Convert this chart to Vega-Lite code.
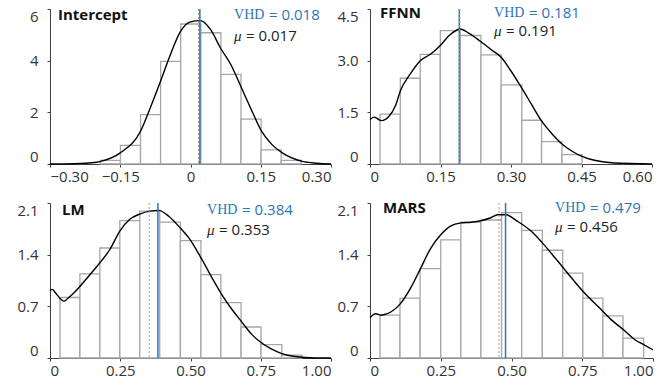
{
  "$schema": "https://vega.github.io/schema/vega-lite/v6.json",
  "background": "white",
  "padding": {"left": 16, "top": 5, "right": 5, "bottom": 5},
  "bounds": "flush",
  "columns": 2,
  "spacing": {"row": 39, "column": 39},
  "datasets": {
    "hist": [
      {"panel": "Intercept", "start": -0.1925, "end": -0.1496, "density": 0.14},
      {"panel": "Intercept", "start": -0.1496, "end": -0.1067, "density": 0.72},
      {"panel": "Intercept", "start": -0.1067, "end": -0.0638, "density": 1.91},
      {"panel": "Intercept", "start": -0.0638, "end": -0.0209, "density": 3.97},
      {"panel": "Intercept", "start": -0.0209, "end": 0.022, "density": 5.42},
      {"panel": "Intercept", "start": 0.022, "end": 0.0649, "density": 5.08},
      {"panel": "Intercept", "start": 0.0649, "end": 0.1078, "density": 3.47},
      {"panel": "Intercept", "start": 0.1078, "end": 0.1507, "density": 1.74},
      {"panel": "Intercept", "start": 0.1507, "end": 0.1936, "density": 0.55},
      {"panel": "Intercept", "start": 0.1936, "end": 0.2365, "density": 0.14},
      {"panel": "FFNN", "start": 0.0213, "end": 0.0645, "density": 1.45},
      {"panel": "FFNN", "start": 0.0645, "end": 0.107, "density": 2.49},
      {"panel": "FFNN", "start": 0.107, "end": 0.1496, "density": 3.18},
      {"panel": "FFNN", "start": 0.1496, "end": 0.192, "density": 3.87},
      {"panel": "FFNN", "start": 0.192, "end": 0.236, "density": 3.73},
      {"panel": "FFNN", "start": 0.236, "end": 0.279, "density": 3.17},
      {"panel": "FFNN", "start": 0.279, "end": 0.323, "density": 2.3},
      {"panel": "FFNN", "start": 0.323, "end": 0.365, "density": 1.27},
      {"panel": "FFNN", "start": 0.365, "end": 0.4085, "density": 0.65},
      {"panel": "FFNN", "start": 0.4085, "end": 0.451, "density": 0.27},
      {"panel": "LM", "start": 0.0355, "end": 0.1065, "density": 0.82},
      {"panel": "LM", "start": 0.1065, "end": 0.1775, "density": 1.14},
      {"panel": "LM", "start": 0.1775, "end": 0.2485, "density": 1.49},
      {"panel": "LM", "start": 0.2485, "end": 0.3195, "density": 1.86},
      {"panel": "LM", "start": 0.3195, "end": 0.3905, "density": 1.99},
      {"panel": "LM", "start": 0.3905, "end": 0.464, "density": 1.84},
      {"panel": "LM", "start": 0.464, "end": 0.537, "density": 1.59},
      {"panel": "LM", "start": 0.537, "end": 0.608, "density": 1.13},
      {"panel": "LM", "start": 0.608, "end": 0.68, "density": 0.75},
      {"panel": "LM", "start": 0.68, "end": 0.751, "density": 0.42},
      {"panel": "LM", "start": 0.751, "end": 0.825, "density": 0.18},
      {"panel": "LM", "start": 0.825, "end": 0.896, "density": 0.04},
      {"panel": "MARS", "start": 0.0354, "end": 0.106, "density": 0.58},
      {"panel": "MARS", "start": 0.106, "end": 0.177, "density": 0.81},
      {"panel": "MARS", "start": 0.177, "end": 0.25, "density": 1.21},
      {"panel": "MARS", "start": 0.25, "end": 0.321, "density": 1.6},
      {"panel": "MARS", "start": 0.321, "end": 0.392, "density": 1.84},
      {"panel": "MARS", "start": 0.392, "end": 0.465, "density": 1.87},
      {"panel": "MARS", "start": 0.465, "end": 0.536, "density": 1.97},
      {"panel": "MARS", "start": 0.536, "end": 0.609, "density": 1.73},
      {"panel": "MARS", "start": 0.609, "end": 0.681, "density": 1.46},
      {"panel": "MARS", "start": 0.681, "end": 0.752, "density": 1.15},
      {"panel": "MARS", "start": 0.752, "end": 0.823, "density": 0.81},
      {"panel": "MARS", "start": 0.823, "end": 0.894, "density": 0.57},
      {"panel": "MARS", "start": 0.894, "end": 0.967, "density": 0.27}
    ],
    "kde": [
      {"panel": "Intercept", "x": -0.3, "y": 0.0},
      {"panel": "Intercept", "x": -0.25, "y": 0.01},
      {"panel": "Intercept", "x": -0.2, "y": 0.07},
      {"panel": "Intercept", "x": -0.192, "y": 0.1},
      {"panel": "Intercept", "x": -0.15, "y": 0.43},
      {"panel": "Intercept", "x": -0.107, "y": 1.26},
      {"panel": "Intercept", "x": -0.086, "y": 2.17},
      {"panel": "Intercept", "x": -0.064, "y": 3.2},
      {"panel": "Intercept", "x": -0.043, "y": 4.23},
      {"panel": "Intercept", "x": -0.021, "y": 5.14},
      {"panel": "Intercept", "x": 0.0, "y": 5.5},
      {"panel": "Intercept", "x": 0.021, "y": 5.55},
      {"panel": "Intercept", "x": 0.043, "y": 5.2},
      {"panel": "Intercept", "x": 0.064, "y": 4.49},
      {"panel": "Intercept", "x": 0.086, "y": 3.85},
      {"panel": "Intercept", "x": 0.109, "y": 2.94},
      {"panel": "Intercept", "x": 0.13, "y": 2.1},
      {"panel": "Intercept", "x": 0.152, "y": 1.26},
      {"panel": "Intercept", "x": 0.174, "y": 0.75},
      {"panel": "Intercept", "x": 0.196, "y": 0.43},
      {"panel": "Intercept", "x": 0.239, "y": 0.1},
      {"panel": "Intercept", "x": 0.27, "y": 0.03},
      {"panel": "Intercept", "x": 0.3, "y": 0.0},
      {"panel": "FFNN", "x": 0.0, "y": 1.29},
      {"panel": "FFNN", "x": 0.009, "y": 1.36},
      {"panel": "FFNN", "x": 0.024, "y": 1.26},
      {"panel": "FFNN", "x": 0.04, "y": 1.38},
      {"panel": "FFNN", "x": 0.055, "y": 1.72},
      {"panel": "FFNN", "x": 0.0645, "y": 2.12},
      {"panel": "FFNN", "x": 0.085, "y": 2.6},
      {"panel": "FFNN", "x": 0.107, "y": 3.0},
      {"panel": "FFNN", "x": 0.13, "y": 3.2},
      {"panel": "FFNN", "x": 0.15, "y": 3.45},
      {"panel": "FFNN", "x": 0.17, "y": 3.75},
      {"panel": "FFNN", "x": 0.192, "y": 3.92},
      {"panel": "FFNN", "x": 0.21, "y": 3.8},
      {"panel": "FFNN", "x": 0.236, "y": 3.55},
      {"panel": "FFNN", "x": 0.26, "y": 3.3},
      {"panel": "FFNN", "x": 0.279, "y": 3.1},
      {"panel": "FFNN", "x": 0.3, "y": 2.7},
      {"panel": "FFNN", "x": 0.323, "y": 2.2},
      {"panel": "FFNN", "x": 0.345, "y": 1.7},
      {"panel": "FFNN", "x": 0.365, "y": 1.25},
      {"panel": "FFNN", "x": 0.387, "y": 0.88},
      {"panel": "FFNN", "x": 0.4085, "y": 0.58},
      {"panel": "FFNN", "x": 0.43, "y": 0.37},
      {"panel": "FFNN", "x": 0.451, "y": 0.22},
      {"panel": "FFNN", "x": 0.48, "y": 0.1},
      {"panel": "FFNN", "x": 0.52, "y": 0.03},
      {"panel": "FFNN", "x": 0.6, "y": 0.0},
      {"panel": "LM", "x": 0.0, "y": 0.91},
      {"panel": "LM", "x": 0.008, "y": 0.93},
      {"panel": "LM", "x": 0.02, "y": 0.88},
      {"panel": "LM", "x": 0.05, "y": 0.77},
      {"panel": "LM", "x": 0.067, "y": 0.82},
      {"panel": "LM", "x": 0.1065, "y": 0.97},
      {"panel": "LM", "x": 0.138, "y": 1.11},
      {"panel": "LM", "x": 0.1775, "y": 1.29},
      {"panel": "LM", "x": 0.213, "y": 1.47},
      {"panel": "LM", "x": 0.2485, "y": 1.72},
      {"panel": "LM", "x": 0.284, "y": 1.88},
      {"panel": "LM", "x": 0.3195, "y": 1.95},
      {"panel": "LM", "x": 0.355, "y": 1.99},
      {"panel": "LM", "x": 0.387, "y": 2.0},
      {"panel": "LM", "x": 0.4225, "y": 1.92},
      {"panel": "LM", "x": 0.464, "y": 1.76},
      {"panel": "LM", "x": 0.4935, "y": 1.63},
      {"panel": "LM", "x": 0.537, "y": 1.36},
      {"panel": "LM", "x": 0.576, "y": 1.09},
      {"panel": "LM", "x": 0.608, "y": 0.88},
      {"panel": "LM", "x": 0.647, "y": 0.66},
      {"panel": "LM", "x": 0.68, "y": 0.5},
      {"panel": "LM", "x": 0.718, "y": 0.32},
      {"panel": "LM", "x": 0.751, "y": 0.21},
      {"panel": "LM", "x": 0.789, "y": 0.12},
      {"panel": "LM", "x": 0.825, "y": 0.06},
      {"panel": "LM", "x": 0.872, "y": 0.02},
      {"panel": "LM", "x": 0.943, "y": 0.0},
      {"panel": "LM", "x": 1.0, "y": 0.0},
      {"panel": "MARS", "x": 0.0, "y": 0.55},
      {"panel": "MARS", "x": 0.02, "y": 0.6},
      {"panel": "MARS", "x": 0.038, "y": 0.58},
      {"panel": "MARS", "x": 0.061, "y": 0.6},
      {"panel": "MARS", "x": 0.106, "y": 0.73},
      {"panel": "MARS", "x": 0.144, "y": 0.95},
      {"panel": "MARS", "x": 0.177, "y": 1.2},
      {"panel": "MARS", "x": 0.215, "y": 1.49},
      {"panel": "MARS", "x": 0.25, "y": 1.67},
      {"panel": "MARS", "x": 0.286, "y": 1.79},
      {"panel": "MARS", "x": 0.321, "y": 1.83},
      {"panel": "MARS", "x": 0.357, "y": 1.84},
      {"panel": "MARS", "x": 0.392, "y": 1.86},
      {"panel": "MARS", "x": 0.427, "y": 1.9},
      {"panel": "MARS", "x": 0.451, "y": 1.94},
      {"panel": "MARS", "x": 0.48, "y": 1.94},
      {"panel": "MARS", "x": 0.522, "y": 1.85},
      {"panel": "MARS", "x": 0.569, "y": 1.72},
      {"panel": "MARS", "x": 0.609, "y": 1.56},
      {"panel": "MARS", "x": 0.664, "y": 1.31},
      {"panel": "MARS", "x": 0.711, "y": 1.09},
      {"panel": "MARS", "x": 0.758, "y": 0.88},
      {"panel": "MARS", "x": 0.805, "y": 0.7},
      {"panel": "MARS", "x": 0.852, "y": 0.52},
      {"panel": "MARS", "x": 0.9, "y": 0.37},
      {"panel": "MARS", "x": 0.935, "y": 0.25},
      {"panel": "MARS", "x": 0.967, "y": 0.18},
      {"panel": "MARS", "x": 1.0, "y": 0.11}
    ],
    "ann": [
      {"panel": "Intercept", "vhd_line": 0.02, "mu": 0.017, "vhd_text": "= 0.018", "mu_text": "= 0.017"},
      {"panel": "FFNN", "vhd_line": 0.19, "mu": 0.191, "vhd_text": "= 0.181", "mu_text": "= 0.191"},
      {"panel": "LM", "vhd_line": 0.384, "mu": 0.353, "vhd_text": "= 0.384", "mu_text": "= 0.353"},
      {"panel": "MARS", "vhd_line": 0.479, "mu": 0.456, "vhd_text": "= 0.479", "mu_text": "= 0.456"}
    ]
  },
  "concat": [
    {
      "width": 281, "height": 155,
      "layer": [
        {"data": {"name": "hist"}, "transform": [{"filter": "datum.panel === 'Intercept'"}],
         "mark": {"type": "rect", "fill": "white", "stroke": "#a6a6a6", "strokeWidth": 1.3},
         "encoding": {
           "x": {"field": "start", "type": "quantitative", "title": null, "scale": {"domain": [-0.3, 0.3], "nice": false, "zero": false}, "axis": {"values": [-0.3, -0.15, 0, 0.15, 0.3], "labelExpr": "datum.value === 0 ? '0' : format(datum.value, '.2f')"}},
           "x2": {"field": "end"},
           "y": {"field": "density", "type": "quantitative", "title": null, "scale": {"domain": [0, 6], "nice": false}, "axis": {"values": [0, 2, 4, 6], "labelExpr": "format(datum.value, 'd')"}},
           "y2": {"datum": 0}
         }},
        {"data": {"name": "kde"}, "transform": [{"filter": "datum.panel === 'Intercept'"}],
         "mark": {"type": "line", "color": "black", "strokeWidth": 1.4, "interpolate": "monotone"},
         "encoding": {"x": {"field": "x", "type": "quantitative", "title": null}, "y": {"field": "y", "type": "quantitative", "title": null}}},
        {"data": {"name": "ann"}, "transform": [{"filter": "datum.panel === 'Intercept'"}],
         "mark": {"type": "rule", "color": "#2E75B6", "strokeWidth": 1.5},
         "encoding": {"x": {"field": "vhd_line", "type": "quantitative", "title": null}}},
        {"data": {"name": "ann"}, "transform": [{"filter": "datum.panel === 'Intercept'"}],
         "mark": {"type": "rule", "color": "#9a9a9a", "strokeWidth": 1, "strokeDash": [2, 2]},
         "encoding": {"x": {"field": "mu", "type": "quantitative", "title": null}}},
        {"data": {"name": "ann"}, "transform": [{"filter": "datum.panel === 'Intercept'"}],
         "mark": {"type": "text", "font": "Open Sans", "fontWeight": "bold", "fontSize": 15, "align": "left", "baseline": "middle", "color": "#111"},
         "encoding": {"x": {"datum": -0.283}, "y": {"datum": 5.77}, "text": {"field": "panel"}}},
        {"data": {"name": "ann"}, "transform": [{"filter": "datum.panel === 'Intercept'"}],
         "mark": {"type": "text", "font": "Liberation Serif", "fontSize": 14, "align": "left", "baseline": "middle", "color": "#2E75B6"},
         "encoding": {"x": {"datum": 0.093}, "y": {"datum": 5.77}, "text": {"value": "VHD"}}},
        {"data": {"name": "ann"}, "transform": [{"filter": "datum.panel === 'Intercept'"}],
         "mark": {"type": "text", "font": "Open Sans", "fontSize": 15, "align": "left", "baseline": "middle", "color": "#2E75B6", "dx": 35},
         "encoding": {"x": {"datum": 0.093}, "y": {"datum": 5.77}, "text": {"field": "vhd_text"}}},
        {"data": {"name": "ann"}, "transform": [{"filter": "datum.panel === 'Intercept'"}],
         "mark": {"type": "text", "font": "Liberation Serif", "fontStyle": "italic", "fontSize": 15, "align": "left", "baseline": "middle", "color": "#222"},
         "encoding": {"x": {"datum": 0.093}, "y": {"datum": 4.95}, "text": {"value": "μ"}}},
        {"data": {"name": "ann"}, "transform": [{"filter": "datum.panel === 'Intercept'"}],
         "mark": {"type": "text", "font": "Open Sans", "fontSize": 15, "align": "left", "baseline": "middle", "color": "#222", "dx": 12},
         "encoding": {"x": {"datum": 0.093}, "y": {"datum": 4.95}, "text": {"field": "mu_text"}}}
      ]
    },
    {
      "width": 282, "height": 155,
      "layer": [
        {"data": {"name": "hist"}, "transform": [{"filter": "datum.panel === 'FFNN'"}],
         "mark": {"type": "rect", "fill": "white", "stroke": "#a6a6a6", "strokeWidth": 1.3},
         "encoding": {
           "x": {"field": "start", "type": "quantitative", "title": null, "scale": {"domain": [0, 0.6], "nice": false, "zero": false}, "axis": {"values": [0, 0.15, 0.3, 0.45, 0.6], "labelExpr": "datum.value === 0 ? '0' : format(datum.value, '.2f')"}},
           "x2": {"field": "end"},
           "y": {"field": "density", "type": "quantitative", "title": null, "scale": {"domain": [0, 4.5], "nice": false}, "axis": {"values": [0, 1.5, 3, 4.5], "labelExpr": "datum.value === 0 ? '0' : format(datum.value, '.1f')"}},
           "y2": {"datum": 0}
         }},
        {"data": {"name": "kde"}, "transform": [{"filter": "datum.panel === 'FFNN'"}],
         "mark": {"type": "line", "color": "black", "strokeWidth": 1.4, "interpolate": "monotone"},
         "encoding": {"x": {"field": "x", "type": "quantitative", "title": null}, "y": {"field": "y", "type": "quantitative", "title": null}}},
        {"data": {"name": "ann"}, "transform": [{"filter": "datum.panel === 'FFNN'"}],
         "mark": {"type": "rule", "color": "#2E75B6", "strokeWidth": 1.5},
         "encoding": {"x": {"field": "vhd_line", "type": "quantitative", "title": null}}},
        {"data": {"name": "ann"}, "transform": [{"filter": "datum.panel === 'FFNN'"}],
         "mark": {"type": "rule", "color": "#9a9a9a", "strokeWidth": 1, "strokeDash": [2, 2]},
         "encoding": {"x": {"field": "mu", "type": "quantitative", "title": null}}},
        {"data": {"name": "ann"}, "transform": [{"filter": "datum.panel === 'FFNN'"}],
         "mark": {"type": "text", "font": "Open Sans", "fontWeight": "bold", "fontSize": 15, "align": "left", "baseline": "middle", "color": "#111"},
         "encoding": {"x": {"datum": 0.0213}, "y": {"datum": 4.39}, "text": {"field": "panel"}}},
        {"data": {"name": "ann"}, "transform": [{"filter": "datum.panel === 'FFNN'"}],
         "mark": {"type": "text", "font": "Liberation Serif", "fontSize": 14, "align": "left", "baseline": "middle", "color": "#2E75B6"},
         "encoding": {"x": {"datum": 0.264}, "y": {"datum": 4.39}, "text": {"value": "VHD"}}},
        {"data": {"name": "ann"}, "transform": [{"filter": "datum.panel === 'FFNN'"}],
         "mark": {"type": "text", "font": "Open Sans", "fontSize": 15, "align": "left", "baseline": "middle", "color": "#2E75B6", "dx": 35},
         "encoding": {"x": {"datum": 0.264}, "y": {"datum": 4.39}, "text": {"field": "vhd_text"}}},
        {"data": {"name": "ann"}, "transform": [{"filter": "datum.panel === 'FFNN'"}],
         "mark": {"type": "text", "font": "Liberation Serif", "fontStyle": "italic", "fontSize": 15, "align": "left", "baseline": "middle", "color": "#222"},
         "encoding": {"x": {"datum": 0.264}, "y": {"datum": 3.86}, "text": {"value": "μ"}}},
        {"data": {"name": "ann"}, "transform": [{"filter": "datum.panel === 'FFNN'"}],
         "mark": {"type": "text", "font": "Open Sans", "fontSize": 15, "align": "left", "baseline": "middle", "color": "#222", "dx": 12},
         "encoding": {"x": {"datum": 0.264}, "y": {"datum": 3.86}, "text": {"field": "mu_text"}}}
      ]
    },
    {
      "width": 281, "height": 155,
      "layer": [
        {"data": {"name": "hist"}, "transform": [{"filter": "datum.panel === 'LM'"}],
         "mark": {"type": "rect", "fill": "white", "stroke": "#a6a6a6", "strokeWidth": 1.3},
         "encoding": {
           "x": {"field": "start", "type": "quantitative", "title": null, "scale": {"domain": [0, 1], "nice": false, "zero": false}, "axis": {"values": [0, 0.25, 0.5, 0.75, 1], "labelExpr": "datum.value === 0 ? '0' : format(datum.value, '.2f')"}},
           "x2": {"field": "end"},
           "y": {"field": "density", "type": "quantitative", "title": null, "scale": {"domain": [0, 2.1], "nice": false}, "axis": {"values": [0, 0.7, 1.4, 2.1], "labelExpr": "datum.value === 0 ? '0' : format(datum.value, '.1f')"}},
           "y2": {"datum": 0}
         }},
        {"data": {"name": "kde"}, "transform": [{"filter": "datum.panel === 'LM'"}],
         "mark": {"type": "line", "color": "black", "strokeWidth": 1.4, "interpolate": "monotone"},
         "encoding": {"x": {"field": "x", "type": "quantitative", "title": null}, "y": {"field": "y", "type": "quantitative", "title": null}}},
        {"data": {"name": "ann"}, "transform": [{"filter": "datum.panel === 'LM'"}],
         "mark": {"type": "rule", "color": "#2E75B6", "strokeWidth": 1.5},
         "encoding": {"x": {"field": "vhd_line", "type": "quantitative", "title": null}}},
        {"data": {"name": "ann"}, "transform": [{"filter": "datum.panel === 'LM'"}],
         "mark": {"type": "rule", "color": "#9a9a9a", "strokeWidth": 1, "strokeDash": [2, 2]},
         "encoding": {"x": {"field": "mu", "type": "quantitative", "title": null}}},
        {"data": {"name": "ann"}, "transform": [{"filter": "datum.panel === 'LM'"}],
         "mark": {"type": "text", "font": "Open Sans", "fontWeight": "bold", "fontSize": 15, "align": "left", "baseline": "middle", "color": "#111"},
         "encoding": {"x": {"datum": 0.043}, "y": {"datum": 2.01}, "text": {"field": "panel"}}},
        {"data": {"name": "ann"}, "transform": [{"filter": "datum.panel === 'LM'"}],
         "mark": {"type": "text", "font": "Liberation Serif", "fontSize": 14, "align": "left", "baseline": "middle", "color": "#2E75B6"},
         "encoding": {"x": {"datum": 0.559}, "y": {"datum": 2.0}, "text": {"value": "VHD"}}},
        {"data": {"name": "ann"}, "transform": [{"filter": "datum.panel === 'LM'"}],
         "mark": {"type": "text", "font": "Open Sans", "fontSize": 15, "align": "left", "baseline": "middle", "color": "#2E75B6", "dx": 35},
         "encoding": {"x": {"datum": 0.559}, "y": {"datum": 2.0}, "text": {"field": "vhd_text"}}},
        {"data": {"name": "ann"}, "transform": [{"filter": "datum.panel === 'LM'"}],
         "mark": {"type": "text", "font": "Liberation Serif", "fontStyle": "italic", "fontSize": 15, "align": "left", "baseline": "middle", "color": "#222"},
         "encoding": {"x": {"datum": 0.559}, "y": {"datum": 1.73}, "text": {"value": "μ"}}},
        {"data": {"name": "ann"}, "transform": [{"filter": "datum.panel === 'LM'"}],
         "mark": {"type": "text", "font": "Open Sans", "fontSize": 15, "align": "left", "baseline": "middle", "color": "#222", "dx": 12},
         "encoding": {"x": {"datum": 0.559}, "y": {"datum": 1.73}, "text": {"field": "mu_text"}}}
      ]
    },
    {
      "width": 283, "height": 155,
      "layer": [
        {"data": {"name": "hist"}, "transform": [{"filter": "datum.panel === 'MARS'"}],
         "mark": {"type": "rect", "fill": "white", "stroke": "#a6a6a6", "strokeWidth": 1.3},
         "encoding": {
           "x": {"field": "start", "type": "quantitative", "title": null, "scale": {"domain": [0, 1], "nice": false, "zero": false}, "axis": {"values": [0, 0.25, 0.5, 0.75, 1], "labelExpr": "datum.value === 0 ? '0' : format(datum.value, '.2f')"}},
           "x2": {"field": "end"},
           "y": {"field": "density", "type": "quantitative", "title": null, "scale": {"domain": [0, 2.1], "nice": false}, "axis": {"values": [0, 0.7, 1.4, 2.1], "labelExpr": "datum.value === 0 ? '0' : format(datum.value, '.1f')"}},
           "y2": {"datum": 0}
         }},
        {"data": {"name": "kde"}, "transform": [{"filter": "datum.panel === 'MARS'"}],
         "mark": {"type": "line", "color": "black", "strokeWidth": 1.4, "interpolate": "monotone"},
         "encoding": {"x": {"field": "x", "type": "quantitative", "title": null}, "y": {"field": "y", "type": "quantitative", "title": null}}},
        {"data": {"name": "ann"}, "transform": [{"filter": "datum.panel === 'MARS'"}],
         "mark": {"type": "rule", "color": "#2E75B6", "strokeWidth": 1.5},
         "encoding": {"x": {"field": "vhd_line", "type": "quantitative", "title": null}}},
        {"data": {"name": "ann"}, "transform": [{"filter": "datum.panel === 'MARS'"}],
         "mark": {"type": "rule", "color": "#9a9a9a", "strokeWidth": 1, "strokeDash": [2, 2]},
         "encoding": {"x": {"field": "mu", "type": "quantitative", "title": null}}},
        {"data": {"name": "ann"}, "transform": [{"filter": "datum.panel === 'MARS'"}],
         "mark": {"type": "text", "font": "Open Sans", "fontWeight": "bold", "fontSize": 15, "align": "left", "baseline": "middle", "color": "#111"},
         "encoding": {"x": {"datum": 0.046}, "y": {"datum": 2.03}, "text": {"field": "panel"}}},
        {"data": {"name": "ann"}, "transform": [{"filter": "datum.panel === 'MARS'"}],
         "mark": {"type": "text", "font": "Liberation Serif", "fontSize": 14, "align": "left", "baseline": "middle", "color": "#2E75B6"},
         "encoding": {"x": {"datum": 0.654}, "y": {"datum": 2.03}, "text": {"value": "VHD"}}},
        {"data": {"name": "ann"}, "transform": [{"filter": "datum.panel === 'MARS'"}],
         "mark": {"type": "text", "font": "Open Sans", "fontSize": 15, "align": "left", "baseline": "middle", "color": "#2E75B6", "dx": 35},
         "encoding": {"x": {"datum": 0.654}, "y": {"datum": 2.03}, "text": {"field": "vhd_text"}}},
        {"data": {"name": "ann"}, "transform": [{"filter": "datum.panel === 'MARS'"}],
         "mark": {"type": "text", "font": "Liberation Serif", "fontStyle": "italic", "fontSize": 15, "align": "left", "baseline": "middle", "color": "#222"},
         "encoding": {"x": {"datum": 0.654}, "y": {"datum": 1.78}, "text": {"value": "μ"}}},
        {"data": {"name": "ann"}, "transform": [{"filter": "datum.panel === 'MARS'"}],
         "mark": {"type": "text", "font": "Open Sans", "fontSize": 15, "align": "left", "baseline": "middle", "color": "#222", "dx": 12},
         "encoding": {"x": {"datum": 0.654}, "y": {"datum": 1.78}, "text": {"field": "mu_text"}}}
      ]
    }
  ],
  "config": {
    "view": {"stroke": null},
    "axis": {
      "grid": false,
      "domainColor": "#404040",
      "domainWidth": 1,
      "tickColor": "#404040",
      "tickSize": 3,
      "labelFont": "Open Sans",
      "labelFontSize": 15,
      "labelColor": "#333333",
      "labelFlush": true,
      "labelOverlap": false
    },
    "axisX": {"labelPadding": 2},
    "axisY": {"labelPadding": 9}
  }
}
